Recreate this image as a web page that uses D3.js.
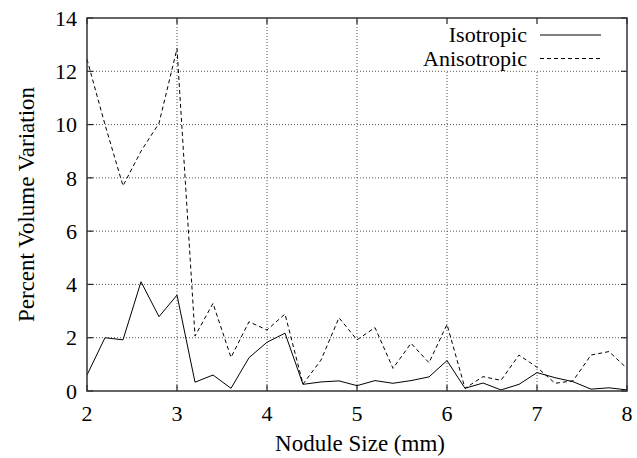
<!DOCTYPE html>
<html>
<head>
<meta charset="utf-8">
<script src="https://cdn.jsdelivr.net/npm/d3@7"></script>
<style>
  body { margin: 0; background: #fff; }
  svg { display: block; font-family: "Liberation Serif", "DejaVu Serif", serif; }
  .tick-label { font-size: 22px; fill: #000; }
  .axis-title { font-size: 23px; fill: #000; }
  .grid line { stroke: #555; stroke-width: 1; stroke-dasharray: 1,2; }
</style>
</head>
<body>
<svg id="chart" width="637" height="458"></svg>
<script>
// nodule sizes (mm), every 0.2 mm
const sizes = [2.0, 2.2, 2.4, 2.6, 2.8, 3.0, 3.2, 3.4, 3.6, 3.8, 4.0, 4.2, 4.4, 4.6, 4.8, 5.0,
  5.2, 5.4, 5.6, 5.8, 6.0, 6.2, 6.4, 6.6, 6.8, 7.0, 7.2, 7.4, 7.6, 7.8, 8.0];

const isotropic = [0.6, 2.0, 1.92, 4.1, 2.79, 3.6, 0.33, 0.6, 0.1, 1.25, 1.83, 2.17, 0.25, 0.34, 0.38, 0.2,
  0.39, 0.29, 0.39, 0.53, 1.14, 0.1, 0.3, 0.04, 0.25, 0.69, 0.5, 0.35, 0.07, 0.12, 0.04];

const anisotropic = [12.45, 10.0, 7.7, 9.0, 10.05, 12.85, 2.06, 3.29, 1.26, 2.6, 2.29, 2.89, 0.26, 1.16, 2.75, 1.92,
  2.38, 0.85, 1.79, 1.06, 2.5, 0.1, 0.54, 0.4, 1.35, 0.89, 0.29, 0.38, 1.35, 1.48, 0.85];

const xTicks = [2, 3, 4, 5, 6, 7, 8];
const yTicks = [0, 2, 4, 6, 8, 10, 12, 14];

const series = [
  { name: "Isotropic", values: isotropic, dash: null },
  { name: "Anisotropic", values: anisotropic, dash: "4,3" }
];

const margin = { top: 18, right: 10, bottom: 67, left: 87 };
const width = 637, height = 458;

const svg = d3.select("#chart");

const x = d3.scaleLinear().domain([2, 8]).range([margin.left, width - margin.right]);
const y = d3.scaleLinear().domain([0, 14]).range([height - margin.bottom, margin.top]);

const [x0, x1] = x.range();
const [y0, y1] = y.range(); // y0 bottom, y1 top

// Grid lines (dotted)
const grid = svg.append("g").attr("class", "grid");
grid.selectAll(".gx")
  .data(xTicks.filter(d => d > 2 && d < 8))
  .enter().append("line")
  .attr("x1", d => x(d)).attr("x2", d => x(d))
  .attr("y1", y0).attr("y2", y1);
grid.selectAll(".gy")
  .data(yTicks.filter(d => d > 0 && d < 14))
  .enter().append("line")
  .attr("x1", x0).attr("x2", x1)
  .attr("y1", d => y(d)).attr("y2", d => y(d));

// Key area hides the grid behind it
svg.append("rect")
  .attr("x", 420).attr("y", y1 + 1)
  .attr("width", x1 - 420 - 1).attr("height", y(12) - y1 - 2)
  .attr("fill", "#fff");

// Data lines
const line = d3.line()
  .x((d, i) => x(sizes[i]))
  .y(d => y(d));

svg.append("g").selectAll("path")
  .data(series)
  .enter().append("path")
  .attr("d", d => line(d.values))
  .attr("fill", "none")
  .attr("stroke", "#000")
  .attr("stroke-width", 1)
  .attr("stroke-dasharray", d => d.dash);

// Inward ticks on all four sides
const tickLen = 6;
const ticks = svg.append("g").attr("stroke", "#222").attr("stroke-width", 1.2);
xTicks.forEach(t => {
  ticks.append("line").attr("x1", x(t)).attr("x2", x(t)).attr("y1", y0).attr("y2", y0 - tickLen);
  ticks.append("line").attr("x1", x(t)).attr("x2", x(t)).attr("y1", y1).attr("y2", y1 + tickLen);
});
yTicks.forEach(t => {
  ticks.append("line").attr("x1", x0).attr("x2", x0 + tickLen).attr("y1", y(t)).attr("y2", y(t));
  ticks.append("line").attr("x1", x1).attr("x2", x1 - tickLen).attr("y1", y(t)).attr("y2", y(t));
});

// Border
svg.append("rect")
  .attr("x", x0).attr("y", y1)
  .attr("width", x1 - x0).attr("height", y0 - y1)
  .attr("fill", "none")
  .attr("stroke", "#333")
  .attr("stroke-width", 1.5);

// Tick labels
svg.append("g").selectAll("text")
  .data(xTicks)
  .enter().append("text")
  .attr("class", "tick-label")
  .attr("x", d => x(d))
  .attr("y", 421)
  .attr("text-anchor", "middle")
  .text(d => d);

svg.append("g").selectAll("text")
  .data(yTicks)
  .enter().append("text")
  .attr("class", "tick-label")
  .attr("x", 77)
  .attr("y", d => y(d))
  .attr("dy", "0.35em")
  .attr("text-anchor", "end")
  .text(d => d);

// Axis titles
svg.append("text")
  .attr("class", "axis-title")
  .attr("x", (x0 + x1) / 2 + 3)
  .attr("y", 451)
  .attr("text-anchor", "middle")
  .text("Nodule Size (mm)");

svg.append("text")
  .attr("class", "axis-title")
  .attr("transform", `translate(34,${(y0 + y1) / 2}) rotate(-90)`)
  .attr("text-anchor", "middle")
  .text("Percent Volume Variation");

// Key
const key = svg.append("g");
series.forEach((s, i) => {
  const ky = 35 + i * 23.5;
  key.append("text")
    .attr("class", "tick-label")
    .attr("x", 527)
    .attr("y", ky)
    .attr("dy", "0.33em")
    .attr("text-anchor", "end")
    .text(s.name);
  key.append("line")
    .attr("x1", 540).attr("x2", 601)
    .attr("y1", ky).attr("y2", ky)
    .attr("stroke", "#000")
    .attr("stroke-width", 1)
    .attr("stroke-dasharray", s.dash);
});
</script>
</body>
</html>
